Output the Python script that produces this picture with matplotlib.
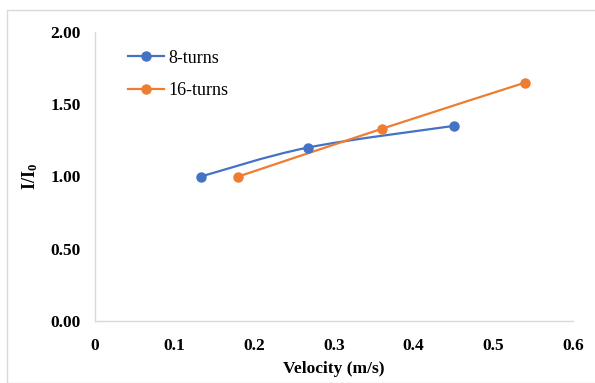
import matplotlib
matplotlib.use("Agg")
import matplotlib.pyplot as plt
from matplotlib.path import Path
from matplotlib.patches import PathPatch, Rectangle
from matplotlib.lines import Line2D
import numpy as np

series_names = ["8-turns", "16-turns"]
x_8 = [0.133, 0.267, 0.45]
y_8 = [1.00, 1.20, 1.35]
x_16 = [0.18, 0.36, 0.54]
y_16 = [1.00, 1.33, 1.65]
x_ticks = [0, 0.1, 0.2, 0.3, 0.4, 0.5, 0.6]
x_tick_labels = ["0", "0.1", "0.2", "0.3", "0.4", "0.5", "0.6"]
y_ticks = [0.0, 0.5, 1.0, 1.5, 2.0]
y_tick_labels = ["0.00", "0.50", "1.00", "1.50", "2.00"]
colors = ["#4472C4", "#ED7D31"]

plt.rcParams['font.family'] = ['Liberation Serif', 'DejaVu Serif']
plt.rcParams['mathtext.fontset'] = 'custom'
plt.rcParams['mathtext.rm'] = 'Liberation Serif'
plt.rcParams['mathtext.bf'] = 'Liberation Serif:bold'

fig = plt.figure(figsize=(5.95, 3.83), dpi=100)
fig.patches.append(Rectangle((7/595, 0), 1, 1 - 10/383, transform=fig.transFigure,
                             fill=False, edgecolor="#d9d9d9", linewidth=1.0))
ax = fig.add_axes([95/595, 62/383, (573-95)/595, (321-32)/383])


def smooth_path(xs, ys):
    pts = np.column_stack([xs, ys])
    n = len(pts)
    verts = [pts[0]]
    codes = [Path.MOVETO]
    for i in range(n - 1):
        p_prev = pts[i - 1] if i > 0 else pts[i]
        p_next = pts[i + 2] if i + 2 < n else pts[i + 1]
        c1 = pts[i] + (pts[i + 1] - p_prev) / 6.0
        c2 = pts[i + 1] - (p_next - pts[i]) / 6.0
        verts += [c1, c2, pts[i + 1]]
        codes += [Path.CURVE4] * 3
    return Path(verts, codes)


for xs, ys, c, name in [(x_8, y_8, colors[0], series_names[0]),
                        (x_16, y_16, colors[1], series_names[1])]:
    ax.add_patch(PathPatch(smooth_path(xs, ys), facecolor="none", edgecolor=c,
                           linewidth=1.6, zorder=2))
    ax.plot(xs, ys, linestyle="none", marker="o", markersize=6.5, color=c, zorder=3)

ax.set_xlim(0, 0.6)
ax.set_ylim(0, 2.0)
ax.set_xticks(x_ticks)
ax.set_xticklabels(x_tick_labels, fontsize=12.5, fontweight="bold")
ax.set_yticks(y_ticks)
ax.set_yticklabels(y_tick_labels, fontsize=12.5, fontweight="bold")
ax.tick_params(length=0)
ax.tick_params(axis="x", pad=12)
ax.tick_params(axis="y", pad=10)
for s in ["top", "right"]:
    ax.spines[s].set_visible(False)
for s in ["left", "bottom"]:
    ax.spines[s].set_color("#d9d9d9")
    ax.spines[s].set_linewidth(1.0)

ax.set_xlabel("Velocity (m/s)", fontsize=12.5, fontweight="bold", labelpad=5)
ax.set_ylabel(r"$\mathbf{I/I_0}$", fontsize=13, labelpad=8)

handles = [Line2D([], [], color=c, marker="o", markersize=6.5, linewidth=1.6) for c in colors]
ax.legend(handles, series_names, loc="upper left", bbox_to_anchor=(0.035, 0.995),
          frameon=False, fontsize=13, handlelength=2.0, handletextpad=0.25,
          labelspacing=0.85)

fig.savefig("out.png", dpi=100)
